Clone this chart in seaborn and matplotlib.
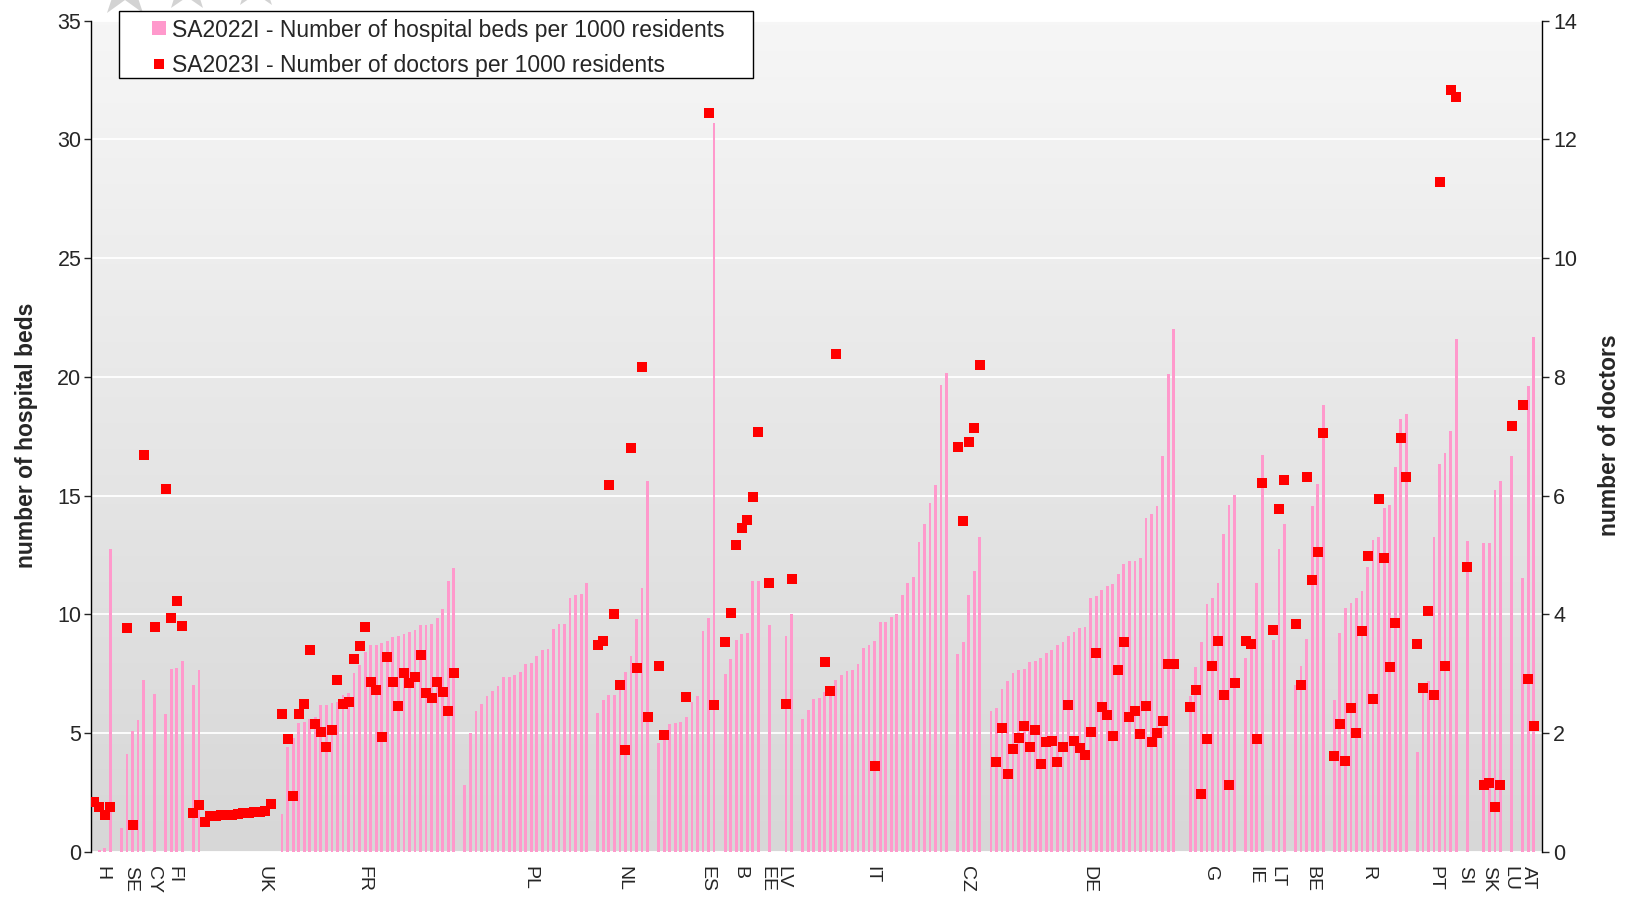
import numpy as np
import pandas as pd
import matplotlib
matplotlib.use("Agg")
import matplotlib.pyplot as plt
import seaborn as sns
from matplotlib.lines import Line2D
from matplotlib.patches import Rectangle
from matplotlib.colors import LinearSegmentedColormap

nan = np.nan

# hospital beds per 1000 residents, one entry per region slot (nan = no bar)
beds = [
    nan, 0.10, 0.15, 12.76, nan, 1.03, 4.13, 5.10, 5.56, 7.24,
    nan, 6.65, nan, 5.81, 7.70, 7.75, 8.06, nan, 7.02, 7.66,
    nan, nan, nan, nan, nan, nan, nan, nan, nan, nan,
    nan, nan, nan, nan, 1.62, 4.42, 4.80, 5.43, 5.49, 5.58,
    5.68, 6.18, 6.18, 6.27, 6.33, 6.59, 6.69, 7.53, 7.89, 8.41,
    8.73, 8.73, 8.82, 8.87, 9.05, 9.10, 9.19, 9.25, 9.35, 9.54,
    9.54, 9.62, 9.84, 10.22, 11.39, 11.94, nan, 2.83, 5.03, 5.94,
    6.23, 6.56, 6.78, 6.98, 7.36, 7.36, 7.44, 7.57, 7.90, 7.95,
    8.24, 8.50, 8.54, 9.38, 9.58, 9.62, 10.68, 10.81, 10.88, 11.34,
    nan, 5.85, 6.40, 6.60, 6.60, 6.91, 7.57, 8.24, 9.80, 11.10,
    15.62, nan, 4.60, 4.71, 5.39, 5.45, 5.48, 5.68, 6.32, 6.56,
    9.29, 9.84, 30.70, nan, 7.49, 8.12, 8.92, 9.16, 9.21, 11.43,
    11.43, nan, 9.54, nan, nan, 9.09, 10.04, nan, 5.59, 5.98,
    6.45, 6.47, 6.73, 7.01, 7.24, 7.46, 7.62, 7.66, 7.90, 8.58,
    8.70, 8.89, 9.67, 9.67, 9.88, 10.00, 10.81, 11.34, 11.56, 13.06,
    13.79, 14.71, 15.46, 19.65, 20.16, nan, 8.32, 8.83, 10.81, 11.85,
    13.28, nan, 5.94, 6.05, 6.86, 7.20, 7.53, 7.66, 7.70, 7.99,
    8.03, 8.16, 8.37, 8.50, 8.70, 8.83, 9.09, 9.25, 9.42, 9.47,
    10.68, 10.77, 11.01, 11.18, 11.30, 11.69, 12.14, 12.27, 12.27, 12.36,
    14.08, 14.21, 14.58, 16.68, 20.12, 22.00, nan, nan, 6.56, 7.77,
    8.83, 10.46, 10.68, 11.34, 13.37, 14.62, 15.04, nan, 8.16, 8.67,
    11.34, 16.72, nan, 8.92, 12.77, 13.83, nan, 7.02, 7.82, 8.96,
    14.58, 15.51, 18.82, nan, 6.40, 9.21, 10.26, 10.49, 10.68, 10.97,
    11.98, 13.15, 13.28, 14.49, 14.62, 16.21, 18.24, 18.44, nan, 4.23,
    6.82, 7.20, 13.28, 16.34, 16.81, 17.73, 21.60, nan, 13.11, nan,
    nan, 12.99, 13.02, 15.25, 15.62, nan, 16.68, nan, 11.52, 19.61,
    21.70, nan,
]

# doctors per 1000 residents, same slots (nan = no marker)
doctors = [
    0.84, 0.76, 0.62, 0.76, nan, nan, 3.77, 0.45, nan, 6.69,
    nan, 3.79, nan, 6.11, 3.94, 4.23, 3.80, nan, 0.66, 0.79,
    0.50, 0.60, 0.61, 0.62, 0.63, 0.63, 0.64, 0.65, 0.66, 0.67,
    0.68, 0.69, 0.80, nan, 2.33, 1.90, 0.94, 2.33, 2.49, 3.40,
    2.16, 2.02, 1.77, 2.06, 2.90, 2.50, 2.53, 3.25, 3.47, 3.79,
    2.87, 2.72, 1.94, 3.29, 2.87, 2.46, 3.01, 2.84, 2.95, 3.31,
    2.68, 2.60, 2.87, 2.70, 2.38, 3.01, nan, nan, nan, nan,
    nan, nan, nan, nan, nan, nan, nan, nan, nan, nan,
    nan, nan, nan, nan, nan, nan, nan, nan, nan, nan,
    nan, 3.49, 3.56, 6.18, 4.01, 2.82, 1.71, 6.81, 3.10, 8.17,
    2.27, nan, 3.14, 1.97, nan, nan, nan, 2.61, nan, nan,
    nan, 12.44, 2.47, nan, 3.54, 4.03, 5.17, 5.46, 5.59, 5.98,
    7.08, nan, 4.53, nan, nan, 2.49, 4.59, nan, nan, nan,
    nan, nan, 3.20, 2.71, 8.39, nan, nan, nan, nan, nan,
    nan, 1.45, nan, nan, nan, nan, nan, nan, nan, nan,
    nan, nan, nan, nan, nan, nan, 6.82, 5.57, 6.91, 7.14,
    8.20, nan, nan, 1.52, 2.08, 1.31, 1.73, 1.92, 2.13, 1.77,
    2.06, 1.49, 1.86, 1.87, 1.51, 1.76, 2.48, 1.87, 1.75, 1.64,
    2.02, 3.35, 2.44, 2.30, 1.95, 3.06, 3.53, 2.28, 2.37, 1.98,
    2.46, 1.85, 2.00, 2.20, 3.17, 3.17, nan, nan, 2.45, 2.72,
    0.97, 1.91, 3.14, 3.56, 2.65, 1.12, 2.84, nan, 3.56, 3.50,
    1.91, 6.21, nan, 3.74, 5.78, 6.27, nan, 3.84, 2.82, 6.31,
    4.58, 5.06, 7.06, nan, 1.61, 2.16, 1.54, 2.42, 2.00, 3.72,
    4.99, 2.58, 5.95, 4.95, 3.11, 3.85, 6.97, 6.31, nan, 3.51,
    2.77, 4.06, 2.64, 11.28, 3.14, 12.84, 12.72, nan, 4.80, nan,
    nan, 1.13, 1.17, 0.76, 1.12, nan, 7.18, nan, 7.53, 2.92,
    2.13, nan,
]

country_labels = ["H", "SE", "CY", "FI", "UK", "FR", "PL", "NL", "ES", "B", "EE", "LV",
                  "IT", "CZ", "DE", "G", "IE", "LT", "BE", "R", "PT", "SI", "SK", "LU", "AT"]
country_label_slots = [1.5, 6.6, 10.8, 14.4, 30.7, 48.7, 78.8, 95.7, 110.7, 116.7, 121.5, 124.5,
                       140.5, 157.6, 179.6, 201.6, 209.7, 213.6, 219.9, 230.1, 242.2, 247.6,
                       251.8, 255.7, 259.0]

legend_labels = ["SA2022I - Number of hospital beds per 1000 residents",
                 "SA2023I - Number of doctors per 1000 residents"]

assert len(beds) == len(doctors)
n_slots = len(beds)
df = pd.DataFrame({"slot": np.arange(n_slots), "beds": beds, "doctors": doctors})
df_beds = df.dropna(subset=["beds"])
df_doc = df.dropna(subset=["doctors"])

BAR = "#ff99cc"
DOT = "#ff0000"
FONT = ["Liberation Sans", "DejaVu Sans"]

sns.set_style("white")
plt.rcParams["font.family"] = FONT

W, H = 1625, 897
fig = plt.figure(figsize=(W / 100, H / 100), dpi=100)
fig.patch.set_facecolor("white")
ax = fig.add_axes([91 / W, 1 - 852 / H, (1542 - 91) / W, (852 - 20.7) / H])

# gradient background
cmap = LinearSegmentedColormap.from_list("bg", ["#d7d7d7", "#f6f6f6"])
grad = np.linspace(0, 1, 256).reshape(-1, 1)
ax.imshow(grad, extent=[0, 1, 0, 1], transform=ax.transAxes, aspect="auto",
          cmap=cmap, origin="lower", zorder=0, interpolation="bilinear")

sns.barplot(data=df_beds, x="slot", y="beds", native_scale=True, color=BAR,
            saturation=1, width=0.5, linewidth=0, errorbar=None, ax=ax, zorder=2)

ax.set_xlim(-0.5, n_slots - 0.5)
ax.set_ylim(0, 35)
ax.set_yticks(np.arange(0, 36, 5))
ax.set_axisbelow(True)
ax.yaxis.grid(True, color="white", linewidth=1.3, zorder=1)
ax.xaxis.grid(False)
ax.set_xticks(country_label_slots)
ax.set_xticklabels(country_labels, rotation=-90, fontsize=14)
ax.tick_params(axis="x", length=0, pad=10)
ax.tick_params(axis="y", direction="out", length=5, width=1, labelsize=15.5, pad=2, left=True)
for s in ["top", "bottom", "right"]:
    ax.spines[s].set_visible(False)
ax.spines["left"].set_color("black")
ax.spines["left"].set_linewidth(1)
ax.set_xlabel("")
ax.set_ylabel("")

ax2 = ax.twinx()
sns.scatterplot(data=df_doc, x="slot", y="doctors", marker="s", s=52, color=DOT,
                linewidth=0, legend=False, ax=ax2, zorder=3)
ax2.set_xlim(-0.5, n_slots - 0.5)
ax2.set_ylim(0, 14)
ax2.set_yticks(np.arange(0, 15, 2))
ax2.tick_params(axis="y", direction="out", length=5, width=1, labelsize=15.5, pad=3, right=True)
for s in ["top", "bottom", "left"]:
    ax2.spines[s].set_visible(False)
ax2.spines["right"].set_color("black")
ax2.spines["right"].set_linewidth(1)
ax2.set_ylabel("")
ax2.set_xlabel("")
ax2.grid(False)

fig.text(26.5 / W, 1 - 435 / H, "number of hospital beds", rotation=90, ha="center",
         va="center", fontsize=16.5, fontweight="bold")
fig.text(1610 / W, 1 - 435 / H, "number of doctors", rotation=90, ha="center",
         va="center", fontsize=16.5, fontweight="bold")

# faint watermark stars at the top edge (drawn as markers)
for sx, sy, ms in [(125, -12, 44), (187, -14, 40), (256, -16, 38)]:
    fig.add_artist(Line2D([sx / W], [1 - sy / H], transform=fig.transFigure, ls="none",
                          marker="*", markersize=ms, markerfacecolor="#d3d3d3",
                          markeredgewidth=0, zorder=0.5, clip_on=False))

# legend box
fig.add_artist(Rectangle((119 / W, 1 - 77.7 / H), (753 - 119) / W, (77.7 - 11.4) / H,
                         transform=fig.transFigure, facecolor="white", edgecolor="black",
                         linewidth=1, zorder=2))
handles = [
    Line2D([], [], ls="none", marker="s", markersize=10.5, markerfacecolor=BAR, markeredgewidth=0),
    Line2D([], [], ls="none", marker="s", markersize=6.7, markerfacecolor=DOT, markeredgewidth=0),
]
leg = fig.legend(handles, legend_labels, loc="upper left",
                 bbox_to_anchor=(149.4 / W, 1 - 18.5 / H), frameon=False, borderpad=0,
                 borderaxespad=0, handlelength=0.8, handletextpad=0.2, labelspacing=0.55,
                 fontsize=16.5)
leg.set_zorder(5)

fig.savefig("out.png", dpi=100, facecolor="white")
